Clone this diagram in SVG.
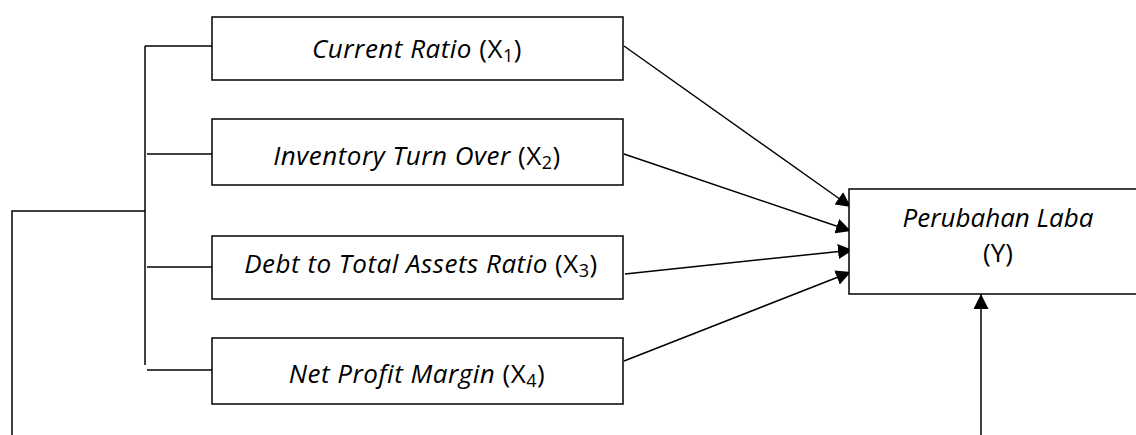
<svg xmlns="http://www.w3.org/2000/svg" width="1136" height="435" viewBox="0 0 1136 435">
<defs>
<style>
.box{fill:#fff;stroke:#000;stroke-width:1.5}
.ln{fill:none;stroke:#000;stroke-width:1.5}
.t{font-family:"Open Sans","Liberation Sans",sans-serif;font-size:26px;fill:#000;text-anchor:middle}
.w{letter-spacing:0.5px}
.i{font-style:italic}
.sub{font-size:18px}
</style>
<marker id="arrB" viewBox="0 0 10 10" refX="10" refY="5" markerWidth="15" markerHeight="15" markerUnits="userSpaceOnUse" orient="auto">
<path d="M0,0 L10,5 L0,10 z" fill="#000"/>
</marker>
</defs>
<rect width="1136" height="435" fill="#fff"/>
<g id="connectors">
<path class="ln" d="M12,435 V211 H145"/>
<path class="ln" d="M145,46 V365"/>
<path class="ln" d="M145,46 H212 M147,154 H212 M147,267 H212 M147,370 H212"/>
<path class="ln" d="M624,46 L851,207" marker-end="url(#arrB)"/>
<path class="ln" d="M624,154 L851,231" marker-end="url(#arrB)"/>
<path class="ln" d="M625,274 L853,250" marker-end="url(#arrB)"/>
<path class="ln" d="M624,361 L851,272" marker-end="url(#arrB)"/>
<path class="ln" d="M981,435 V294" marker-end="url(#arrB)"/>
</g>
<g id="x1">
<rect class="box" x="212" y="17" width="411" height="63"/>
<text class="t w" x="417" y="58"><tspan class="i">Current Ratio</tspan> (X<tspan class="sub" dy="4">1</tspan><tspan dy="-4">)</tspan></text>
</g>
<g id="x2">
<rect class="box" x="212" y="119" width="411" height="66"/>
<text class="t w" x="417" y="165"><tspan class="i">Inventory Turn Over</tspan> (X<tspan class="sub" dy="4">2</tspan><tspan dy="-4">)</tspan></text>
</g>
<g id="x3">
<rect class="box" x="212" y="236" width="411" height="63"/>
<text class="t w" x="421" y="273"><tspan class="i">Debt to Total Assets Ratio</tspan> (X<tspan class="sub" dy="4">3</tspan><tspan dy="-4">)</tspan></text>
</g>
<g id="x4">
<rect class="box" x="212" y="338" width="411" height="66"/>
<text class="t w" x="417" y="383"><tspan class="i">Net Profit Margin</tspan> (X<tspan class="sub" dy="4">4</tspan><tspan dy="-4">)</tspan></text>
</g>
<g id="y">
<rect class="box" x="849" y="189" width="300" height="105"/>
<text class="t" x="998" y="227"><tspan class="i">Perubahan Laba</tspan></text>
<text class="t" x="998" y="262">(Y)</text>
</g>
</svg>
